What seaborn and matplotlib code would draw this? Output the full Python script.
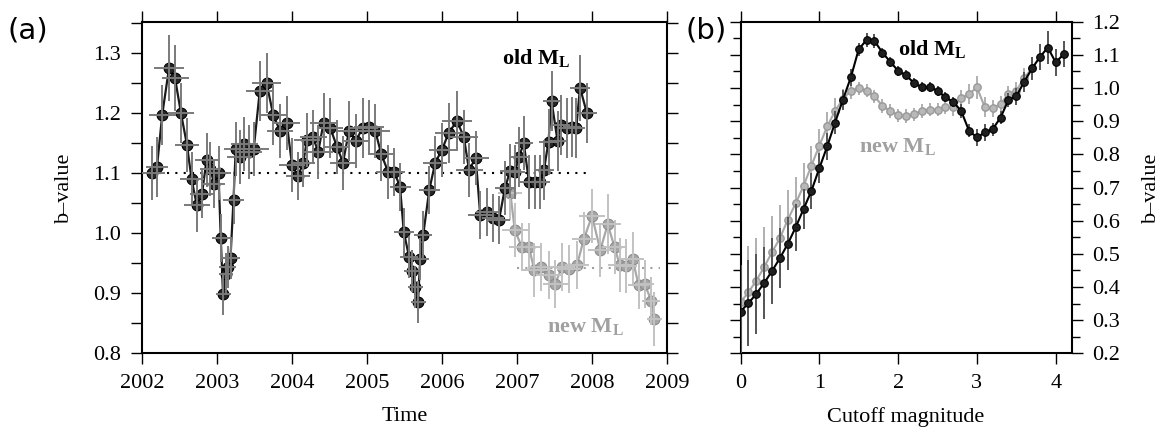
import matplotlib
matplotlib.use("Agg")
import matplotlib.pyplot as plt
from matplotlib.ticker import MultipleLocator, FormatStrFormatter
import seaborn as sns
import pandas as pd

# ---------------- data : panel (a) ----------------
old_time = [2002.13, 2002.20, 2002.27, 2002.36, 2002.44, 2002.52, 2002.60, 2002.66, 2002.73, 2002.80,
            2002.86, 2002.91, 2002.96, 2003.02, 2003.05, 2003.08, 2003.12, 2003.14, 2003.18, 2003.22,
            2003.25, 2003.30, 2003.36, 2003.42, 2003.49, 2003.57, 2003.66, 2003.75, 2003.84, 2003.93,
            2004.00, 2004.08, 2004.15, 2004.20, 2004.28, 2004.35, 2004.42, 2004.51, 2004.60, 2004.68,
            2004.76, 2004.85, 2004.94, 2005.02, 2005.11, 2005.19, 2005.28, 2005.36, 2005.44, 2005.49,
            2005.56, 2005.60, 2005.64, 2005.68, 2005.71, 2005.75, 2005.83, 2005.91, 2006.00, 2006.09,
            2006.20, 2006.29, 2006.36, 2006.45, 2006.51, 2006.60, 2006.68, 2006.76, 2006.84, 2006.91,
            2006.97, 2007.03, 2007.09, 2007.16, 2007.24, 2007.31, 2007.36, 2007.42, 2007.46, 2007.54,
            2007.58, 2007.66, 2007.73, 2007.79, 2007.84, 2007.93]
old_b = [1.100, 1.111, 1.198, 1.275, 1.259, 1.200, 1.147, 1.091, 1.047, 1.066,
         1.122, 1.108, 1.083, 1.100, 0.993, 0.899, 0.933, 0.944, 0.959, 1.056,
         1.141, 1.127, 1.149, 1.136, 1.141, 1.237, 1.251, 1.197, 1.171, 1.184,
         1.114, 1.095, 1.118, 1.156, 1.160, 1.136, 1.184, 1.176, 1.144, 1.118,
         1.171, 1.154, 1.175, 1.177, 1.171, 1.132, 1.103, 1.103, 1.078, 1.003,
         0.961, 0.937, 0.911, 0.886, 0.958, 0.998, 1.072, 1.118, 1.139, 1.168,
         1.187, 1.161, 1.106, 1.125, 1.030, 1.036, 1.025, 1.022, 1.076, 1.104,
         1.102, 1.128, 1.151, 1.085, 1.086, 1.086, 1.106, 1.153, 1.221, 1.154,
         1.180, 1.175, 1.177, 1.175, 1.243, 1.201]
old_berr = [0.045, 0.05, 0.05, 0.055, 0.055, 0.05, 0.045, 0.045, 0.045, 0.04,
            0.045, 0.045, 0.04, 0.045, 0.04, 0.035, 0.035, 0.035, 0.035, 0.04,
            0.045, 0.045, 0.045, 0.045, 0.045, 0.05, 0.05, 0.05, 0.045, 0.045,
            0.045, 0.04, 0.04, 0.045, 0.045, 0.045, 0.05, 0.05, 0.045, 0.045,
            0.05, 0.045, 0.05, 0.045, 0.045, 0.045, 0.045, 0.04, 0.04, 0.04,
            0.035, 0.035, 0.035, 0.035, 0.035, 0.04, 0.04, 0.045, 0.045, 0.05,
            0.05, 0.045, 0.045, 0.045, 0.04, 0.04, 0.04, 0.04, 0.045, 0.045,
            0.045, 0.05, 0.045, 0.045, 0.045, 0.045, 0.05, 0.055, 0.05, 0.05,
            0.05, 0.05, 0.05, 0.05, 0.055, 0.05]
old_terr = [0.17, 0.15, 0.18, 0.20, 0.18, 0.17, 0.16, 0.16, 0.17, 0.16,
            0.15, 0.14, 0.15, 0.16, 0.12, 0.10, 0.10, 0.11, 0.12, 0.14,
            0.16, 0.17, 0.18, 0.18, 0.20, 0.19, 0.19, 0.18, 0.17, 0.17,
            0.17, 0.16, 0.16, 0.17, 0.18, 0.20, 0.18, 0.17, 0.17, 0.17,
            0.18, 0.18, 0.20, 0.20, 0.20, 0.18, 0.16, 0.15, 0.14, 0.13,
            0.12, 0.11, 0.10, 0.10, 0.11, 0.12, 0.14, 0.16, 0.18, 0.19,
            0.20, 0.19, 0.18, 0.17, 0.16, 0.15, 0.15, 0.15, 0.14, 0.14,
            0.13, 0.13, 0.12, 0.12, 0.12, 0.13, 0.13, 0.13, 0.12, 0.12,
            0.12, 0.12, 0.12, 0.12, 0.13, 0.14]

new_time = [2006.91, 2006.97, 2007.06, 2007.16, 2007.23, 2007.32, 2007.42, 2007.51, 2007.60, 2007.69,
            2007.80, 2007.89, 2008.00, 2008.11, 2008.21, 2008.30, 2008.37, 2008.45, 2008.54, 2008.62,
            2008.70, 2008.79, 2008.83]
new_b = [1.068, 1.006, 0.978, 0.977, 0.939, 0.944, 0.930, 0.916, 0.944, 0.941,
         0.947, 0.990, 1.029, 0.972, 1.015, 0.977, 0.947, 0.946, 0.958, 0.914,
         0.916, 0.888, 0.858]
new_berr = [0.045, 0.045, 0.04, 0.04, 0.045, 0.04, 0.04, 0.04, 0.04, 0.04,
            0.04, 0.045, 0.045, 0.045, 0.05, 0.045, 0.045, 0.045, 0.045, 0.04,
            0.04, 0.04, 0.045]
new_terr = [0.16, 0.17, 0.17, 0.17, 0.18, 0.18, 0.17, 0.17, 0.17, 0.16,
            0.16, 0.16, 0.17, 0.17, 0.17, 0.17, 0.16, 0.15, 0.15, 0.14,
            0.13, 0.12, 0.10]

# reference (mean) levels: value, start, end
old_ref = [1.100, 2002.0, 2008.0]
new_ref = [0.942, 2007.0, 2008.9]

# ---------------- data : panel (b) ----------------
old_mag = [0.0, 0.1, 0.2, 0.3, 0.4, 0.5, 0.6, 0.7, 0.8, 0.9,
           1.0, 1.1, 1.2, 1.3, 1.4, 1.5, 1.6, 1.7, 1.8, 1.9,
           2.0, 2.1, 2.2, 2.3, 2.4, 2.5, 2.6, 2.7, 2.8, 2.9,
           3.0, 3.1, 3.2, 3.3, 3.4, 3.5, 3.6, 3.7, 3.8, 3.9,
           4.0, 4.1]
old_bm = [0.326, 0.351, 0.379, 0.412, 0.448, 0.487, 0.530, 0.580, 0.635, 0.690,
          0.758, 0.824, 0.896, 0.965, 1.032, 1.117, 1.145, 1.142, 1.107, 1.079,
          1.052, 1.038, 1.016, 1.002, 1.002, 0.992, 0.972, 0.958, 0.931, 0.871,
          0.851, 0.866, 0.876, 0.911, 0.964, 0.975, 1.019, 1.059, 1.094, 1.122,
          1.077, 1.102]
old_bmerr = [0.14, 0.13, 0.12, 0.11, 0.10, 0.09, 0.08, 0.07, 0.06, 0.055,
             0.045, 0.04, 0.035, 0.03, 0.025, 0.02, 0.02, 0.02, 0.015, 0.015,
             0.015, 0.015, 0.015, 0.015, 0.015, 0.015, 0.015, 0.015, 0.02, 0.02,
             0.025, 0.025, 0.02, 0.02, 0.02, 0.025, 0.03, 0.035, 0.04, 0.05,
             0.04, 0.04]
new_mag = [0.0, 0.1, 0.2, 0.3, 0.4, 0.5, 0.6, 0.7, 0.8, 0.9,
           1.0, 1.1, 1.2, 1.3, 1.4, 1.5, 1.6, 1.7, 1.8, 1.9,
           2.0, 2.1, 2.2, 2.3, 2.4, 2.5, 2.6, 2.7, 2.8, 2.9,
           3.0, 3.1, 3.2, 3.3, 3.4, 3.5, 3.6, 3.7]
new_bm = [0.354, 0.384, 0.419, 0.460, 0.505, 0.547, 0.603, 0.652, 0.705, 0.766,
          0.826, 0.884, 0.931, 0.967, 0.992, 0.999, 0.992, 0.975, 0.946, 0.931,
          0.918, 0.916, 0.921, 0.931, 0.935, 0.935, 0.942, 0.942, 0.969, 0.982,
          1.002, 0.942, 0.939, 0.952, 0.982, 0.992, 1.030, 1.060]
new_bmerr = [0.15, 0.14, 0.13, 0.12, 0.11, 0.10, 0.09, 0.08, 0.07, 0.06,
             0.05, 0.045, 0.04, 0.03, 0.025, 0.02, 0.02, 0.02, 0.02, 0.02,
             0.02, 0.02, 0.02, 0.02, 0.02, 0.02, 0.02, 0.025, 0.025, 0.03,
             0.035, 0.03, 0.025, 0.025, 0.025, 0.025, 0.03, 0.03]

yticks_a = [0.8, 0.9, 1.0, 1.1, 1.2, 1.3]
xticks_a = [2002, 2003, 2004, 2005, 2006, 2007, 2008, 2009]
yticks_b = [0.2, 0.3, 0.4, 0.5, 0.6, 0.7, 0.8, 0.9, 1.0, 1.1, 1.2]
xticks_b = [0, 1, 2, 3, 4]

# ---------------- style ----------------
sns.set_theme(style="ticks")
plt.rcParams["font.family"] = ["Liberation Serif", "DejaVu Serif"]
plt.rcParams["mathtext.fontset"] = "custom"
plt.rcParams["mathtext.rm"] = "Liberation Serif"
plt.rcParams["mathtext.bf"] = "Liberation Serif:bold"
plt.rcParams["axes.linewidth"] = 1.5
for key in ["text.color", "axes.labelcolor", "axes.edgecolor", "xtick.color", "ytick.color"]:
    plt.rcParams[key] = "black"

FS = 16
W, H = 1165, 436
fig = plt.figure(figsize=(W / 100, H / 100), dpi=100)
ax1 = fig.add_axes([142 / W, 1 - 353.3 / H, (667 - 142) / W, (353.3 - 21.7) / H])
ax2 = fig.add_axes([740.5 / W, 1 - 353.3 / H, (1071.5 - 740.5) / W, (353.3 - 21.7) / H])

BLACK_FACE = "#262626"
GRAY_FACE = "#a6a6a6"

# ---- panel (a)
df_old = pd.DataFrame({"t": old_time, "b": old_b})
df_new = pd.DataFrame({"t": new_time, "b": new_b})

ax1.hlines(old_ref[0], old_ref[1], old_ref[2], colors="black", linestyles=(0, (1, 3)), lw=1.5, zorder=1)
ax1.hlines(new_ref[0], new_ref[1], new_ref[2], colors="#a0a0a0", linestyles=(0, (1, 3)), lw=1.5, zorder=1)

sns.lineplot(data=df_new, x="t", y="b", ax=ax1, sort=False, estimator=None,
             color="#a8a8a8", lw=1.6, zorder=2)
sns.scatterplot(data=df_new, x="t", y="b", ax=ax1, s=60, color=GRAY_FACE,
                edgecolor="#8c8c8c", linewidth=0.8, zorder=3)
ax1.errorbar(new_time, new_b, yerr=new_berr, xerr=new_terr, fmt="none",
             ecolor="#c2c2c2", elinewidth=1.4, capsize=0, zorder=4)

sns.lineplot(data=df_old, x="t", y="b", ax=ax1, sort=False, estimator=None,
             color="#1a1a1a", lw=1.6, zorder=5)
sns.scatterplot(data=df_old, x="t", y="b", ax=ax1, s=60, color=BLACK_FACE,
                edgecolor="black", linewidth=0.8, zorder=6)
ax1.errorbar(old_time, old_b, yerr=old_berr, xerr=old_terr, fmt="none",
             ecolor="#7a7a7a", elinewidth=1.4, capsize=0, zorder=7)

ax1.set_xlim(2002, 2009)
ax1.set_ylim(0.8, 1.3527)
ax1.set_xticks(xticks_a)
ax1.set_xticklabels([str(v) for v in xticks_a])
ax1.set_yticks(yticks_a)
ax1.yaxis.set_major_formatter(FormatStrFormatter("%.1f"))
ax1.yaxis.set_minor_locator(MultipleLocator(0.05))
ax1.tick_params(axis="both", which="both", direction="out", top=True, right=True,
                labelsize=FS, width=1.0, pad=7, color="black", labelcolor="black")
ax1.tick_params(axis="both", which="major", length=8)
ax1.tick_params(axis="y", which="minor", length=8)
ax1.set_xlabel("Time", fontsize=FS, labelpad=10)
ax1.set_ylabel("b\u2013value", fontsize=FS, labelpad=14)

ax1.text(2006.8, 1.292, r"old $\mathbf{M_L}$", fontsize=FS, fontweight="bold",
         color="black", ha="left", va="center")
ax1.text(2007.4, 0.845, r"new $\mathbf{M_L}$", fontsize=FS, fontweight="bold",
         color="#a0a0a0", ha="left", va="center")

# ---- panel (b)
df_oldm = pd.DataFrame({"m": old_mag, "b": old_bm})
df_newm = pd.DataFrame({"m": new_mag, "b": new_bm})

ax2.errorbar(new_mag, new_bm, yerr=new_bmerr, fmt="none", ecolor="#b0b0b0",
             elinewidth=1.4, capsize=0, zorder=1)
sns.lineplot(data=df_newm, x="m", y="b", ax=ax2, sort=False, estimator=None,
             color="#a8a8a8", lw=1.5, zorder=2)
sns.scatterplot(data=df_newm, x="m", y="b", ax=ax2, s=28, color="#b8b8b8",
                edgecolor="#999999", linewidth=1.0, zorder=3)

ax2.errorbar(old_mag, old_bm, yerr=old_bmerr, fmt="none", ecolor="#555555",
             elinewidth=1.4, capsize=0, zorder=4)
sns.lineplot(data=df_oldm, x="m", y="b", ax=ax2, sort=False, estimator=None,
             color="black", lw=1.5, zorder=5)
sns.scatterplot(data=df_oldm, x="m", y="b", ax=ax2, s=30, color="#1f1f1f",
                edgecolor="black", linewidth=0.8, zorder=6)

ax2.set_xlim(0, 4.2)
ax2.set_ylim(0.2, 1.2)
ax2.set_xticks(xticks_b)
ax2.set_xticklabels([str(v) for v in xticks_b])
ax2.set_yticks(yticks_b)
ax2.yaxis.set_major_formatter(FormatStrFormatter("%.1f"))
ax2.yaxis.set_minor_locator(MultipleLocator(0.05))
ax2.yaxis.tick_right()
ax2.yaxis.set_label_position("right")
ax2.tick_params(axis="both", which="both", direction="out", top=True, left=True, right=True,
                labelleft=False, labelright=True, labelsize=FS, width=1.0, pad=7,
                color="black", labelcolor="black")
ax2.tick_params(axis="both", which="major", length=8)
ax2.tick_params(axis="y", which="minor", length=6)
ax2.set_xlabel("Cutoff magnitude", fontsize=FS, labelpad=10)
ax2.set_ylabel("b\u2013value", fontsize=FS, labelpad=16, rotation=90)

ax2.text(2.0, 1.117, r"old $\mathbf{M_L}$", fontsize=FS, fontweight="bold",
         color="black", ha="left", va="center")
ax2.text(1.5, 0.825, r"new $\mathbf{M_L}$", fontsize=FS, fontweight="bold",
         color="#a0a0a0", ha="left", va="center")

# panel letters
fig.text(8 / W, 1 - 30 / H, "(a)", fontsize=21, family="DejaVu Sans", ha="left", va="center")
fig.text(686 / W, 1 - 30 / H, "(b)", fontsize=21, family="DejaVu Sans", ha="left", va="center")

fig.savefig("out.png", dpi=100)
